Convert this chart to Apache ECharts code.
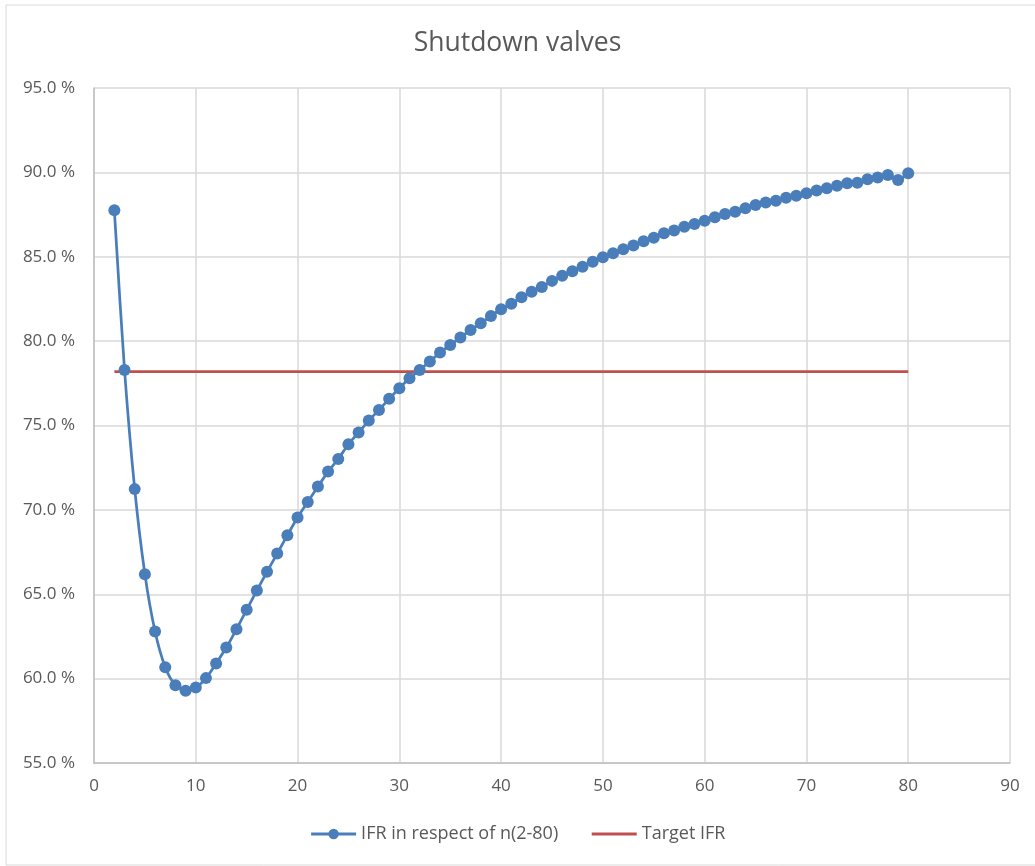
<!DOCTYPE html>
<html>
<head>
<meta charset="utf-8">
<script src="https://cdn.jsdelivr.net/npm/echarts@6/dist/echarts.min.js"></script>
<style>
html,body{margin:0;padding:0;background:#fff;}
#chart{width:1035px;height:866px;}
</style>
</head>
<body>
<div id="chart"></div>
<script>
const titleText = 'Shutdown valves';
const seriesNames = ['IFR in respect of n(2-80)', 'Target IFR'];
const nValues = [2,3,4,5,6,7,8,9,10,11,12,13,14,15,16,17,18,19,20,21,22,23,24,25,26,27,28,29,30,31,32,33,34,35,36,37,38,39,40,41,42,43,44,45,46,47,48,49,50,51,52,53,54,55,56,57,58,59,60,61,62,63,64,65,66,67,68,69,70,71,72,73,74,75,76,77,78,79,80];
const ifrValues = [87.75,78.29,71.23,66.19,62.79,60.68,59.61,59.28,59.47,60.03,60.90,61.84,62.93,64.08,65.22,66.33,67.41,68.50,69.55,70.47,71.38,72.27,73.02,73.89,74.58,75.29,75.92,76.58,77.21,77.80,78.29,78.79,79.32,79.77,80.21,80.66,81.06,81.49,81.89,82.22,82.60,82.93,83.21,83.57,83.88,84.14,84.41,84.71,84.97,85.21,85.44,85.66,85.92,86.13,86.39,86.55,86.78,86.94,87.14,87.34,87.54,87.67,87.87,88.07,88.21,88.32,88.50,88.62,88.76,88.92,89.06,89.21,89.35,89.39,89.59,89.69,89.85,89.55,89.95];
const targetN = [2, 80];
const targetValues = [78.2, 78.2];
const xTicks = {min: 0, max: 90, interval: 10};
const yTicks = {min: 55, max: 95, interval: 5};

const ifrData = nValues.map((n, i) => [n, ifrValues[i]]);
const targetData = targetN.map((n, i) => [n, targetValues[i]]);

const font = '"Open Sans", "Noto Sans", sans-serif';
const chart = echarts.init(document.getElementById('chart'), null, {renderer: 'canvas'});
chart.setOption({
  backgroundColor: '#ffffff',
  animation: false,
  textStyle: {fontFamily: font},
  graphic: [{
    type: 'rect',
    shape: {x: 6, y: 5, width: 1040, height: 860},
    style: {fill: 'none', stroke: '#d9d9d9', lineWidth: 1},
    silent: true,
    z: -1
  }],
  title: {
    text: titleText,
    left: 'center',
    top: 25,
    textStyle: {fontFamily: font, fontSize: 26.5, fontWeight: 'normal', color: '#595959'}
  },
  legend: {
    bottom: 18,
    left: 'center',
    itemWidth: 45,
    itemHeight: 13,
    itemGap: 32,
    textStyle: {fontFamily: font, fontSize: 18, color: '#595959'},
    data: [
      {name: seriesNames[0], lineStyle: {width: 3}},
      {name: seriesNames[1], lineStyle: {width: 3}, itemStyle: {color: 'rgba(0,0,0,0)', borderWidth: 0, opacity: 0}}
    ]
  },
  grid: {left: 94, right: 25, top: 88, bottom: 103},
  xAxis: {
    type: 'value',
    min: xTicks.min, max: xTicks.max, interval: xTicks.interval,
    axisLine: {show: true, lineStyle: {color: '#bfbfbf', width: 1.5}},
    axisTick: {show: false},
    axisLabel: {fontFamily: font, fontSize: 17, color: '#595959', margin: 15},
    splitLine: {show: true, lineStyle: {color: '#d9d9d9', width: 1.5}}
  },
  yAxis: {
    type: 'value',
    min: yTicks.min, max: yTicks.max, interval: yTicks.interval,
    axisLine: {show: true, lineStyle: {color: '#bfbfbf', width: 1.5}},
    axisTick: {show: false},
    axisLabel: {fontFamily: font, fontSize: 17, color: '#595959', margin: 19,
      formatter: v => v.toFixed(1) + ' %'},
    splitLine: {show: true, lineStyle: {color: '#d9d9d9', width: 1.5}}
  },
  series: [
    {
      name: seriesNames[0],
      type: 'line',
      data: ifrData,
      smooth: 0.3,
      symbol: 'circle',
      symbolSize: 12,
      showSymbol: true,
      color: '#4a7ebb',
      lineStyle: {color: '#4a7ebb', width: 2.75},
      itemStyle: {color: '#4a7ebb'},
      z: 3
    },
    {
      name: seriesNames[1],
      type: 'line',
      data: targetData,
      symbol: 'none',
      color: '#c0504d',
      lineStyle: {color: '#c0504d', width: 2.75},
      z: 2
    }
  ]
});
</script>
</body>
</html>
